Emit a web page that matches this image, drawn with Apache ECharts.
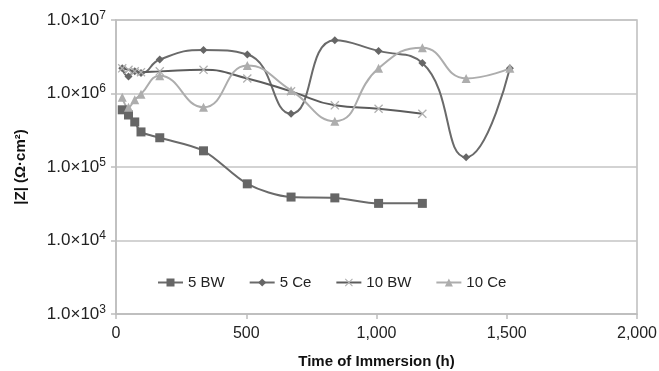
<!DOCTYPE html>
<html>
<head>
<meta charset="utf-8">
<script src="https://cdn.jsdelivr.net/npm/echarts@6/dist/echarts.min.js"></script>
<style>
  html, body { margin: 0; padding: 0; background: #fff; }
  #chart { width: 659px; height: 371px; }
</style>
</head>
<body>
<div id="chart"></div>
<script>
// immersion times (h), same for every series
const hours = [24, 48, 72, 96, 168, 336, 504, 672, 840, 1008, 1176, 1344, 1512];

// |Z| values (Ω·cm²)
const bw5 = [6.0e5, 5.1e5, 4.1e5, 3.0e5, 2.5e5, 1.66e5, 5.9e4, 3.9e4, 3.8e4, 3.2e4, 3.2e4];
const ce5 = [2.2e6, 1.7e6, 2.0e6, 1.9e6, 2.9e6, 3.9e6, 3.4e6, 5.3e5, 5.3e6, 3.8e6, 2.6e6, 1.36e5, 2.2e6];
const bw10 = [2.2e6, 2.1e6, 2.0e6, 1.95e6, 2.0e6, 2.1e6, 1.6e6, 1.07e6, 6.9e5, 6.2e5, 5.3e5];
const ce10 = [8.9e5, 6.5e5, 8.2e5, 9.8e5, 1.74e6, 6.5e5, 2.4e6, 1.1e6, 4.2e5, 2.2e6, 4.2e6, 1.6e6, 2.2e6];

const seriesNames = ['5 BW', '5 Ce', '10 BW', '10 Ce'];

const crossPath = 'path://M0,1L1,0L5,4L9,0L10,1L6,5L10,9L9,10L5,6L1,10L0,9L4,5Z';

function pairs(vals) {
  return vals.map((v, i) => [hours[i], v]);
}

const chart = echarts.init(document.getElementById('chart'));
const font = 'Liberation Sans, Arial, sans-serif';

const option = {
  animation: false,
  textStyle: { fontFamily: font },
  grid: {
    left: 116, right: 22, top: 20, bottom: 57,
    outerBoundsMode: 'none',
    show: true, borderColor: '#bdbdbd', borderWidth: 1.5
  },
  legend: {
    data: seriesNames,
    left: 152, top: 270,
    itemWidth: 25, itemHeight: 10, itemGap: 24,
    textStyle: { fontSize: 15, color: '#222', fontFamily: font }
  },
  xAxis: {
    type: 'value', min: 0, max: 2000, interval: 500,
    name: 'Time of Immersion (h)',
    nameLocation: 'middle', nameGap: 40,
    nameTextStyle: { fontSize: 15, fontWeight: 'bold', color: '#111' },
    axisLine: { lineStyle: { color: '#bdbdbd', width: 1.5 } },
    axisTick: { show: true, length: 5, lineStyle: { color: '#bdbdbd', width: 1.5 } },
    axisLabel: {
      fontSize: 16, color: '#222', margin: 12,
      formatter: v => v.toLocaleString('en-US')
    },
    splitLine: { show: false }
  },
  yAxis: {
    type: 'log', logBase: 10, min: 1e3, max: 1e7,
    name: '|Z| (Ω·cm²)',
    nameLocation: 'middle', nameGap: 88, nameRotate: 90,
    nameTextStyle: { fontSize: 15, fontWeight: 'bold', color: '#111' },
    axisLine: { show: true, lineStyle: { color: '#bdbdbd', width: 1.5 } },
    axisTick: { show: true, length: 5, lineStyle: { color: '#bdbdbd', width: 1.5 } },
    axisLabel: {
      margin: 10, color: '#222',
      formatter: v => '{b|1.0×10}{s|' + Math.round(Math.log10(v)) + '}',
      rich: {
        b: { fontSize: 17, color: '#222', fontFamily: font },
        s: { fontSize: 12, color: '#222', fontFamily: font, padding: [0, 0, 9, 0] }
      }
    },
    splitLine: { show: true, lineStyle: { color: '#c4c4c4', width: 1.5 } }
  },
  series: [
    {
      name: '5 BW', type: 'line', smooth: 0.3,
      data: pairs(bw5),
      symbol: 'rect', symbolSize: 9,
      lineStyle: { color: '#6a6a6a', width: 2 },
      itemStyle: { color: '#666' }
    },
    {
      name: '5 Ce', type: 'line', smooth: 0.5,
      data: pairs(ce5),
      symbol: 'diamond', symbolSize: 8,
      lineStyle: { color: '#6a6a6a', width: 2 },
      itemStyle: { color: '#666' }
    },
    {
      name: '10 BW', type: 'line', smooth: 0.5,
      data: pairs(bw10),
      symbol: crossPath, symbolSize: 9,
      lineStyle: { color: '#5c5c5c', width: 2 },
      itemStyle: { color: '#b0b0b0' }
    },
    {
      name: '10 Ce', type: 'line', smooth: 0.5,
      data: pairs(ce10),
      symbol: 'triangle', symbolSize: 9,
      lineStyle: { color: '#adadad', width: 2 },
      itemStyle: { color: '#adadad' }
    }
  ]
};

chart.setOption(option);
window.addEventListener('resize', () => chart.resize());
</script>
</body>
</html>
